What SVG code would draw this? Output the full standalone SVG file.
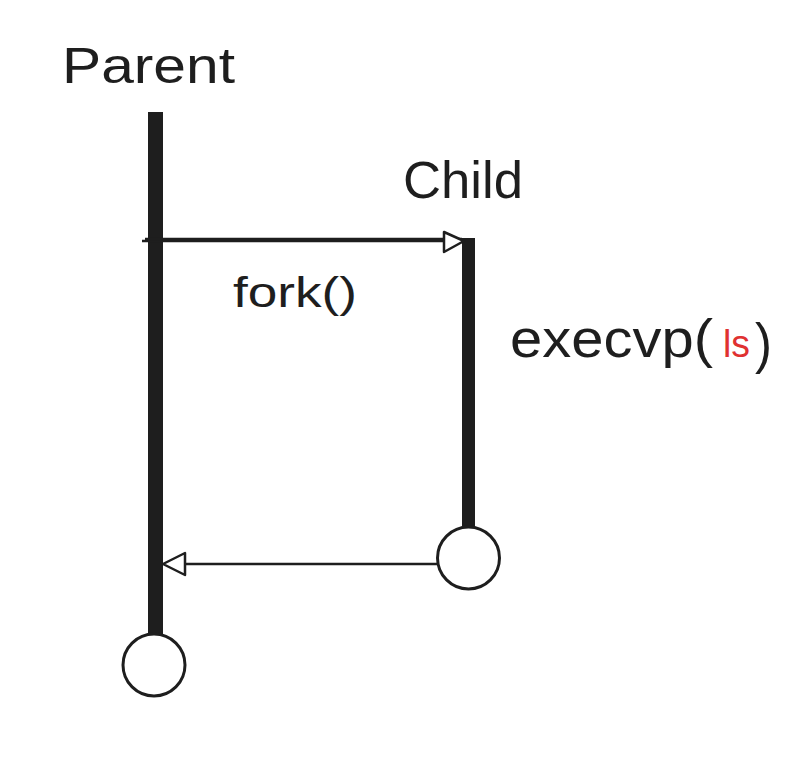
<svg xmlns="http://www.w3.org/2000/svg" width="800" height="780" viewBox="0 0 800 780">
<defs>
<style>
.lbl{font-family:"Liberation Sans","DejaVu Sans",sans-serif;fill:#1e1e1e}
.bar{fill:#1e1e1e}
.ring{fill:#ffffff;stroke:#1e1e1e;stroke-width:3}
.conn{stroke:#1e1e1e;stroke-width:2.5;fill:none}
.head{fill:#ffffff;stroke:#1e1e1e;stroke-width:2.5;stroke-linejoin:round}
</style>
</defs>
<rect width="800" height="780" fill="#ffffff"/>
<g id="parent">
<text class="lbl" x="62" y="83" font-size="50" textLength="173" lengthAdjust="spacingAndGlyphs">Parent</text>
<rect class="bar" x="148" y="112" width="15" height="522"/>
<circle class="ring" cx="154" cy="665" r="31"/>
</g>
<g id="child">
<text class="lbl" x="403" y="198" font-size="52" textLength="120" lengthAdjust="spacingAndGlyphs">Child</text>
<rect class="bar" x="462" y="238" width="13" height="290"/>
<circle class="ring" cx="468.5" cy="558" r="31"/>
</g>
<g id="connectors">
<line class="conn" x1="142" y1="241" x2="444" y2="241"/>
<line class="conn" x1="145" y1="239" x2="462" y2="239" stroke-width="1.2"/>
<polygon class="head" points="444,232 444,252 464,241"/>
<text class="lbl" x="233" y="307" font-size="42" textLength="124" lengthAdjust="spacingAndGlyphs">fork()</text>
<line class="conn" x1="437" y1="564" x2="185" y2="564"/>
<polygon class="head" points="185,553 185,575 163,564"/>
</g>
<g id="exec-label">
<text class="lbl" x="510" y="357" font-size="54" textLength="203" lengthAdjust="spacingAndGlyphs">execvp(</text>
<text class="lbl" x="723" y="357" font-size="38" style="fill:#e03131" textLength="27" lengthAdjust="spacingAndGlyphs">ls</text>
<text class="lbl" x="755" y="362" font-size="56" textLength="17" lengthAdjust="spacingAndGlyphs">)</text>
</g>
</svg>
